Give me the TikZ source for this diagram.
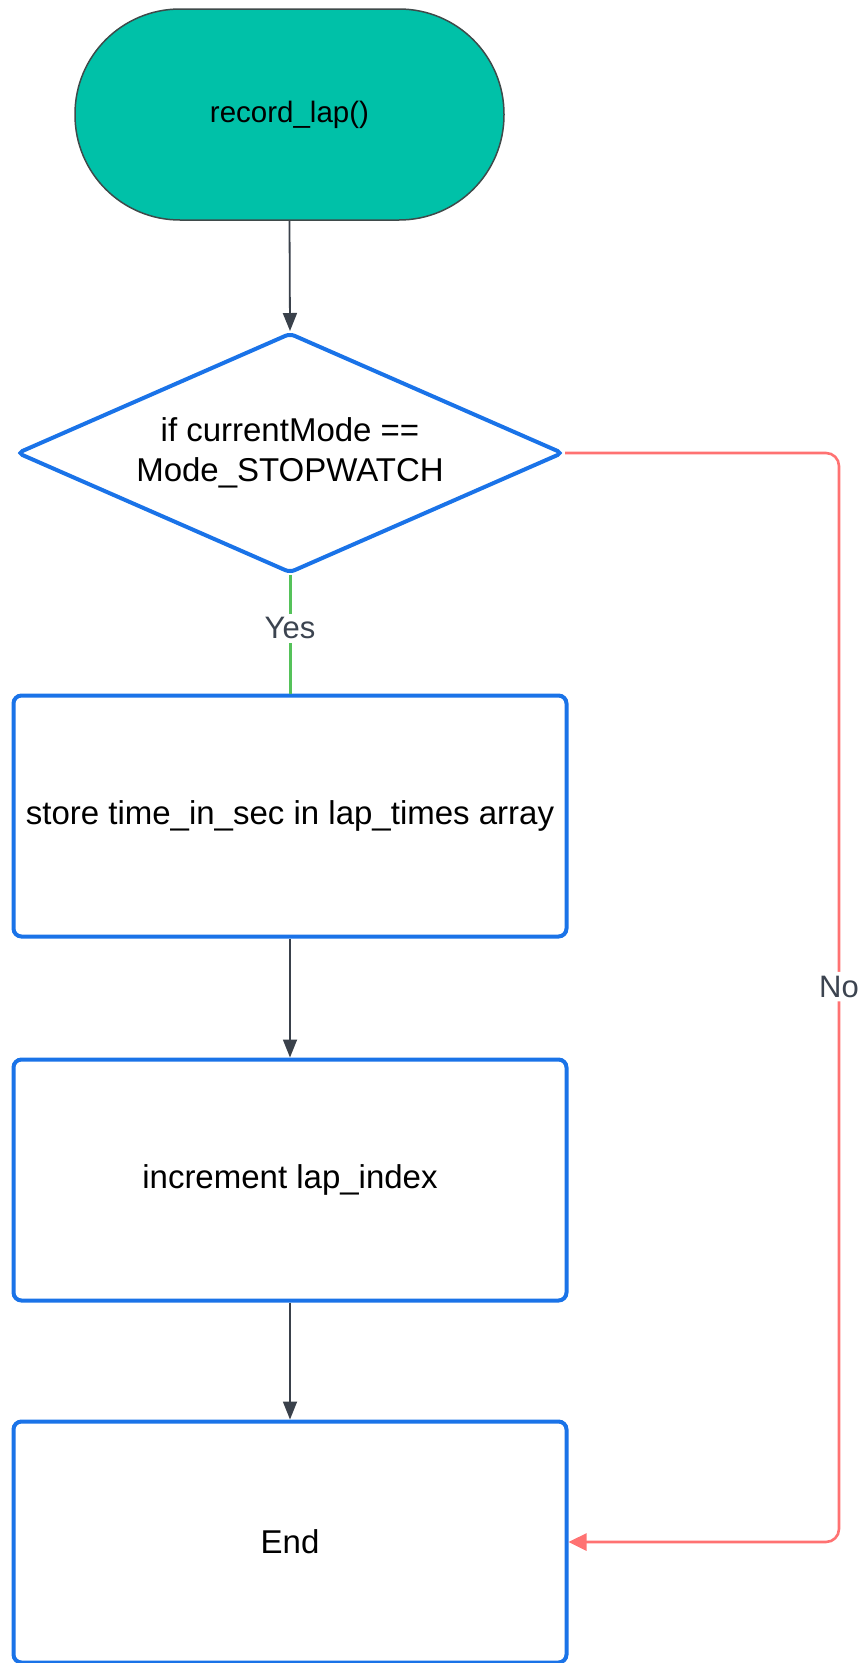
\documentclass[tikz,border=0pt]{standalone}
\usepackage{fontspec}
\setmainfont{Liberation Sans}
\usetikzlibrary{shapes.geometric,arrows.meta}

\definecolor{termfill}{HTML}{00C1A8}
\definecolor{termline}{HTML}{3F4A4A}
\definecolor{flowblue}{HTML}{1A73E8}
\definecolor{arrowgrey}{HTML}{3A414B}
\definecolor{yesgreen}{HTML}{55C25A}
\definecolor{nored}{HTML}{FF7272}
\definecolor{labelgrey}{HTML}{3C4450}

\tikzset{
  bigtext/.style={font=\fontsize{33}{40}\selectfont, text=black, align=center},
  terminal/.style={draw=termline, line width=1.5pt, fill=termfill,
    minimum width=429pt, minimum height=211pt, rounded corners=105pt,
    inner sep=0pt, font=\fontsize{29.5}{36}\selectfont},
  decision/.style={diamond, aspect=2.27, draw=flowblue, line width=4pt, fill=white,
    minimum width=546pt, minimum height=240pt, inner sep=0pt,
    rounded corners=5pt, bigtext},
  process/.style={rectangle, draw=flowblue, line width=4pt, fill=white,
    minimum width=553pt, minimum height=241pt, inner sep=0pt,
    rounded corners=8pt, bigtext},
  flow/.style={draw=arrowgrey, line width=1.8pt,
    -{Triangle[length=18pt,width=14pt]}},
  yesline/.style={draw=yesgreen, line width=3pt},
  noline/.style={draw=nored, line width=2.6pt, rounded corners=13pt,
    -{Triangle[length=18pt,width=17pt]}},
  edgelabel/.style={fill=white, text=labelgrey, inner sep=4pt,
    font=\fontsize{31}{36}\selectfont},
}

\begin{document}
\begin{tikzpicture}[x=1pt, y=-1pt]
  \useasboundingbox (0,0) rectangle (863,1663);

  % nodes of the flow
  \node[terminal] (start) at (289.5,114.5) {record\_lap()};
  \node[decision] (check) at (290,453) {if currentMode ==\\Mode\_STOPWATCH};
  \node[process] (store) at (290,816) {store time\_in\_sec in lap\_times array};
  \node[process] (incr) at (290,1180) {increment lap\_index};
  \node[process] (finish) at (290,1542) {End};

  % corner points of the "No" branch
  \coordinate (noTop) at (839,453);
  \coordinate (noBot) at (839,1542);

  % connectors
  \draw[flow] (start.south) -- (check.north);
  \draw[yesline] (check.south) -- node[edgelabel, pos=0.45] {Yes} (store.north);
  \draw[flow] (store.south) -- (incr.north);
  \draw[flow] (incr.south) -- (finish.north);
  \draw[noline] (check.east) -- (noTop) -- node[edgelabel, pos=0.49] {No} (noBot) -- (finish.east);
\end{tikzpicture}
\end{document}
